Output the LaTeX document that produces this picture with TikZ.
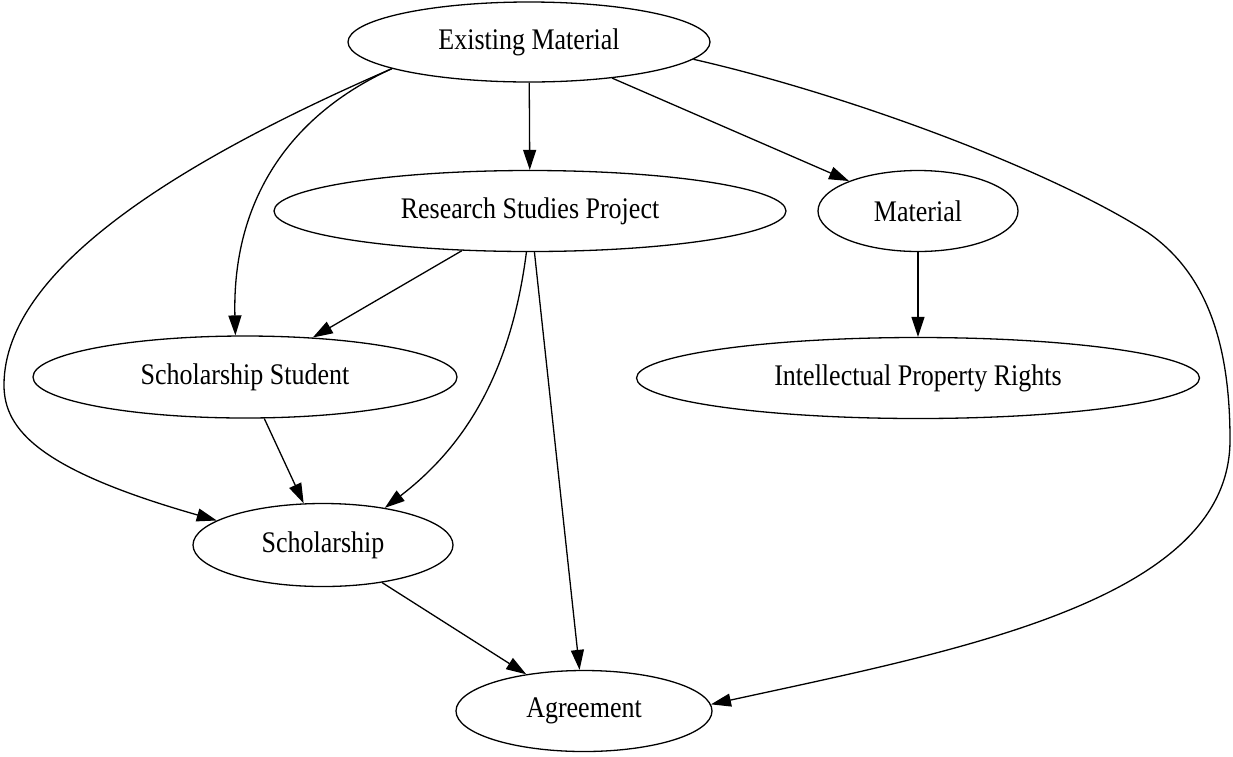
\documentclass[tikz,border=0pt]{standalone}
\usepackage{fontspec}
\setmainfont{Liberation Serif}
\usepackage{graphicx}
\usetikzlibrary{shapes.geometric,arrows.meta}
\newcommand{\tallText}[1]{\scalebox{1}[1.15]{#1}}
\begin{document}
\begin{tikzpicture}[x=1pt,y=-1pt,
  gnode/.style={ellipse,draw,line width=1.3pt,inner sep=0pt,fill=white,
    font=\fontsize{26}{30}\selectfont},
  edge/.style={line width=1.3pt,-{Triangle[length=20pt,width=13pt]}}]
\useasboundingbox[fill=white] (0,0) rectangle (1233,756);
\node[gnode,minimum width=362pt,minimum height=80pt] (em)  at (529,42)  {\tallText{Existing Material}};
\node[gnode,minimum width=512pt,minimum height=81pt] (rsp) at (530,211) {\tallText{Research Studies Project}};
\node[gnode,minimum width=200pt,minimum height=81pt] (mat) at (918,211) {\tallText{Material}};
\node[gnode,minimum width=424pt,minimum height=82pt] (ss)  at (245,377) {\tallText{Scholarship Student}};
\node[gnode,minimum width=563pt,minimum height=81pt] (ipr) at (918,378) {\tallText{Intellectual Property Rights}};
\node[gnode,minimum width=260pt,minimum height=83pt] (sch) at (323,545) {\tallText{Scholarship}};
\node[gnode,minimum width=256pt,minimum height=81pt] (agr) at (584,711) {\tallText{Agreement}};

\draw[edge] (em) -- (rsp);
\draw[edge] (em) -- (mat);
\draw[edge] (em.191) .. controls (290,115) and (232,200) .. (ss.103);
\draw[edge] (em.191) .. controls (193,155) and (4,265) .. (4,385)
  .. controls (4,430) and (40,470) .. (sch.167);
\draw[edge] (em.-6) .. controls (850,95) and (1050,170) .. (1147,232)
  .. controls (1210,275) and (1230,350) .. (1230,440)
  .. controls (1230,600) and (960,650) .. (agr.3);
\draw[edge] (rsp) -- (ss);
\draw[edge] (rsp.-95) .. controls (510,380) and (460,450) .. (sch.31);
\draw[edge] (rsp) -- (agr);
\draw[edge] (mat) -- (ipr);
\draw[edge] (ss) -- (sch);
\draw[edge] (sch) -- (agr);
\end{tikzpicture}
\end{document}
